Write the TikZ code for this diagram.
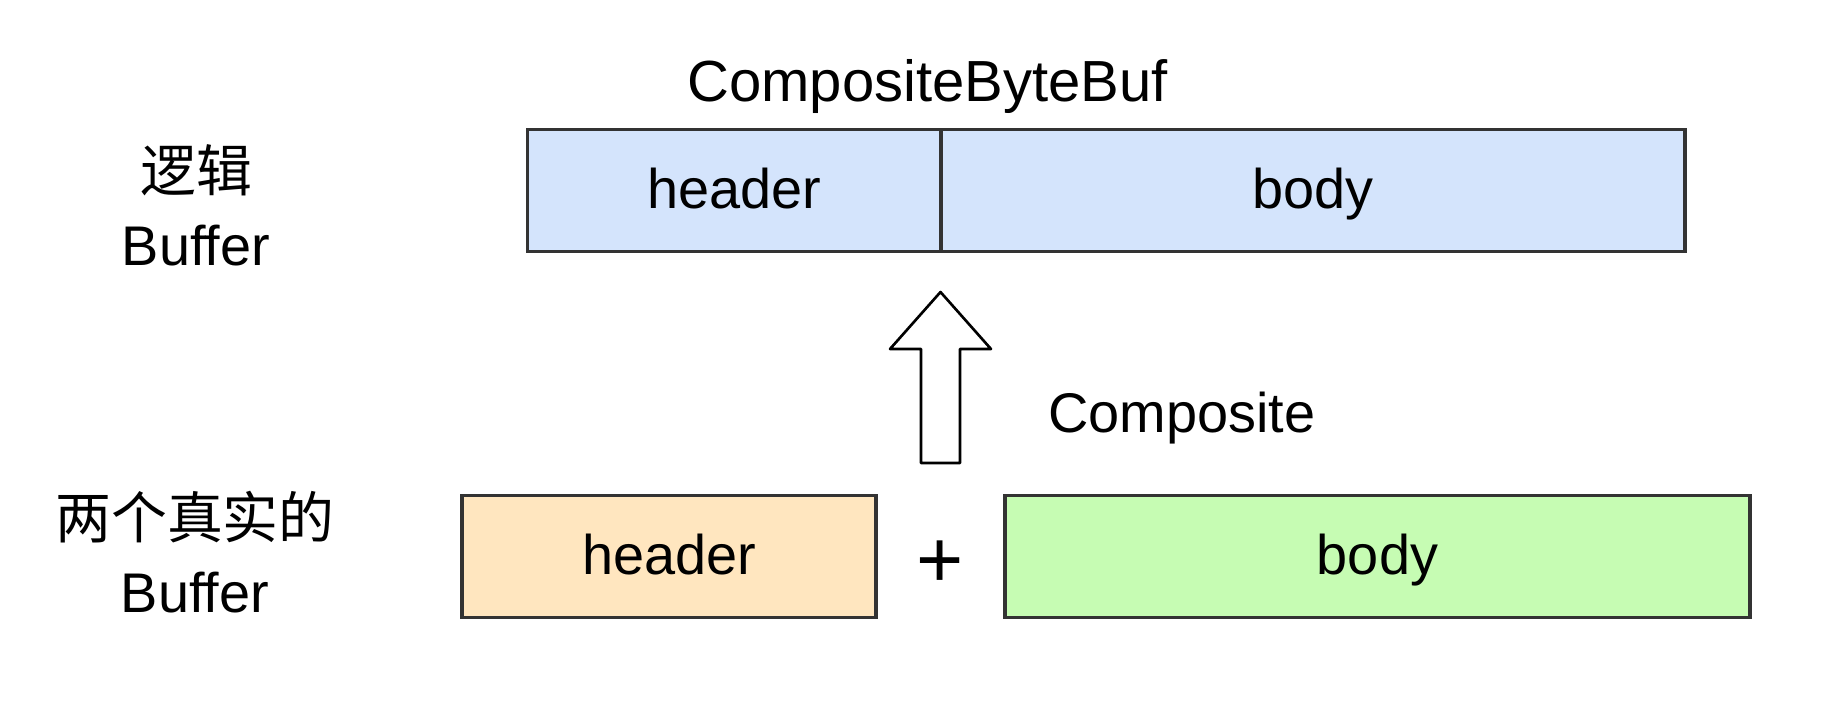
\documentclass[tikz,border=0pt]{standalone}
\usepackage{fontspec}
\setmainfont{Liberation Sans}
\newfontfamily\cjk{Noto Sans CJK SC}
\usetikzlibrary{positioning}
\usepackage{xcolor}
\definecolor{logicBlue}{RGB}{212, 228, 252}
\definecolor{headerSand}{RGB}{255, 230, 191}
\definecolor{bodyGreen}{RGB}{198, 252, 179}
\definecolor{edgeGray}{RGB}{51, 51, 51}

\begin{document}
\begin{tikzpicture}
    [
		font=\fontsize{15.9pt}{21pt}\selectfont,
		node distance=0cm,
		buf/.style={
			draw=edgeGray, line width=0.9pt, minimum height=1.22cm,
			inner sep=0pt, outer sep=0pt, align=center,
			text height=1.1em, text depth=0.1em
		},
		logic/.style={buf, fill=logicBlue},
		realhead/.style={buf, fill=headerSand},
		realbody/.style={buf, fill=bodyGreen},
		tag/.style={align=center, inner sep=0pt},
		plusmark/.style={inner sep=0pt, yshift=-0.08cm, font=\fontsize{23pt}{24pt}\selectfont},
		hollow/.style={draw=black, line width=0.75pt, line join=round, fill=white}
	]

\useasboundingbox (0,0) rectangle (18.26,-7.12);

% Logical buffer
\node (lhead) [logic, minimum width=4.135cm] at (7.3425,-1.905) {header};
\node (lbody) [logic, minimum width=7.44cm, right=of lhead] {body};
\node (cbb) [anchor=base, font=\fontsize{16.5pt}{20pt}\selectfont] at (9.275,-1.01) {CompositeByteBuf};
\node (logictag) [tag, anchor=base] at (1.96,-2.655) {{\cjk 逻辑}\\Buffer};

% Real buffers
\node (rhead) [realhead, minimum width=4.14cm] at (6.69,-5.565) {header};
\node (rbody) [realbody, minimum width=7.45cm, right=1.29cm of rhead] {body};
\path (rhead.east) -- node [plusmark] (plus) {+} (rbody.west);
\node (realtag) [tag, anchor=base] at (1.95,-6.12) {{\cjk 两个真实的}\\Buffer};

% Composite arrow
\coordinate (atip) at (9.405,-2.92);
\draw [hollow] (atip) -- ++(0.505,-0.57) -- ++(-0.31,0) -- ++(0,-1.14)
	-- ++(-0.39,0) -- ++(0,1.14) -- ++(-0.31,0) -- cycle;
\node (comp) [anchor=base west] at (10.36,-4.32) {Composite};

\end{tikzpicture}
\end{document}
